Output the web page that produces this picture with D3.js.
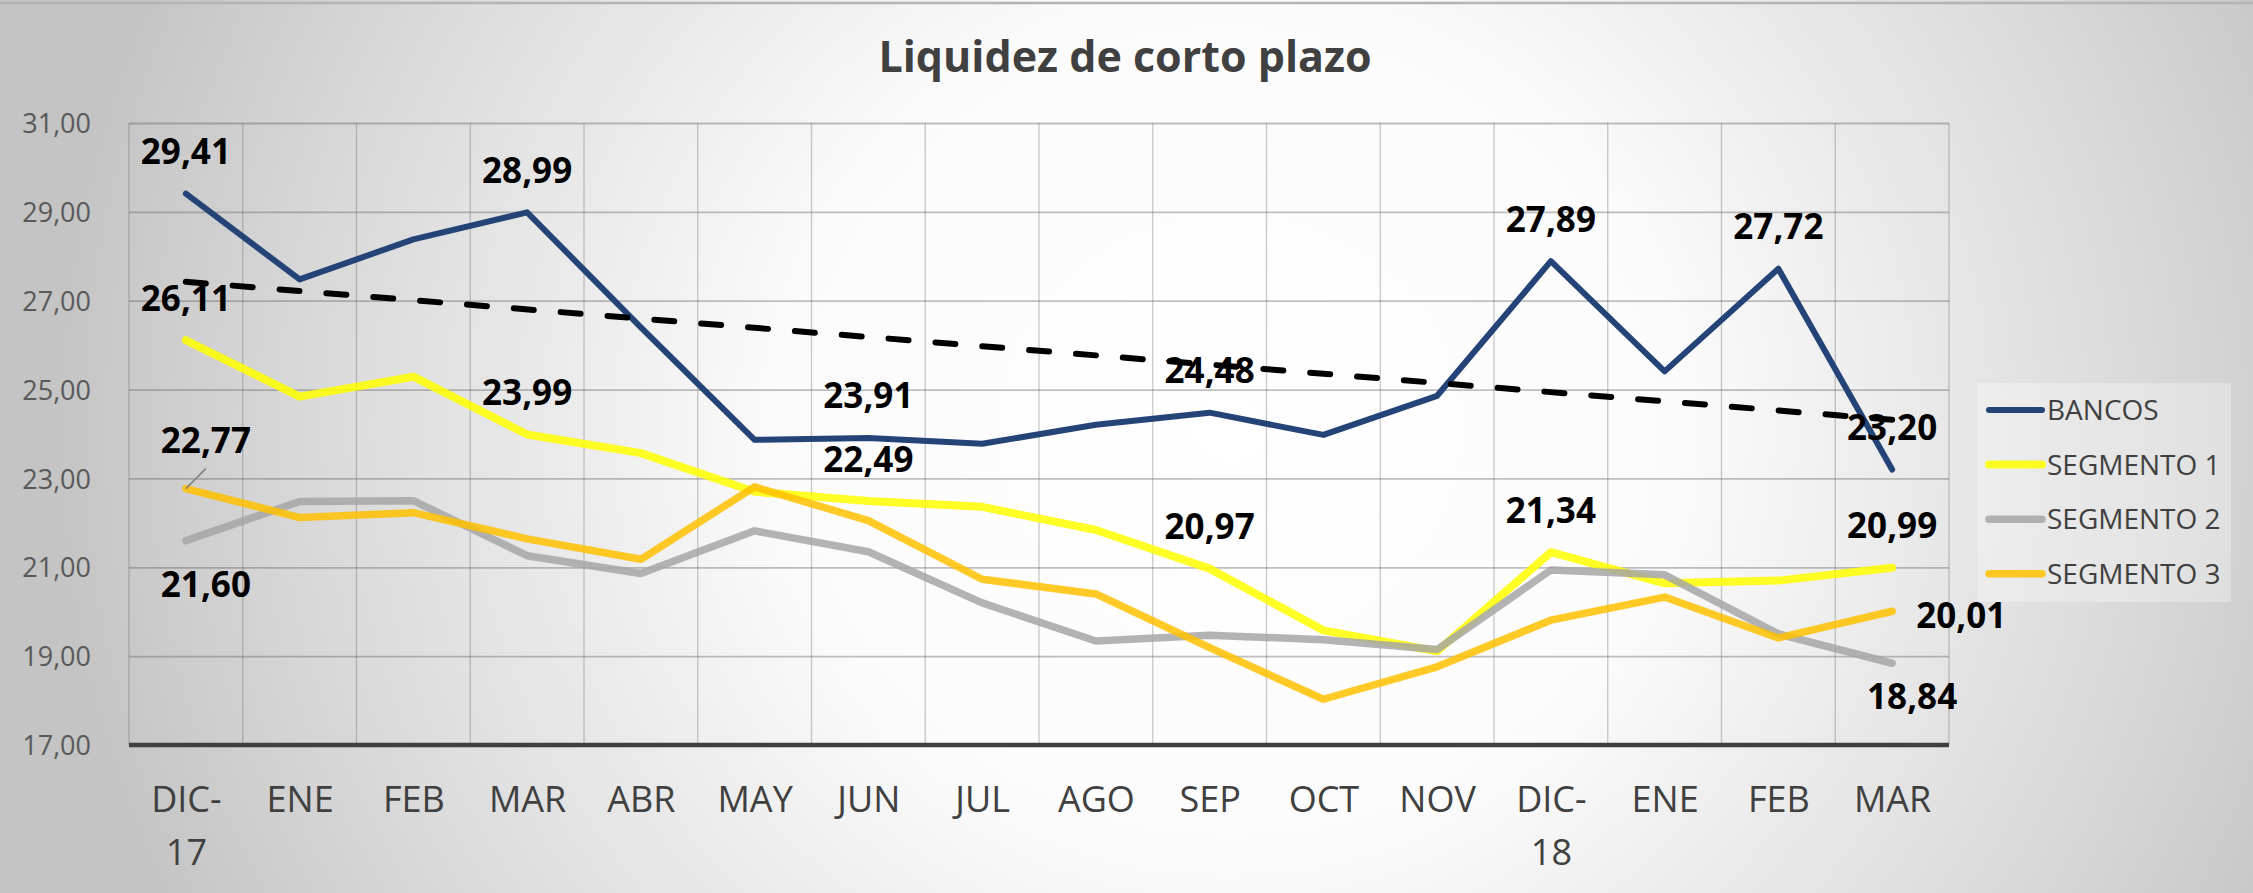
<!DOCTYPE html>
<html><head><meta charset="utf-8">
<script src="https://cdn.jsdelivr.net/npm/d3@7"></script>
<style>body{margin:0;background:#fff}svg{display:block}</style>
</head><body>
<svg id="chart" width="2253" height="893"></svg>
<script>
// ---------- data ----------
const categories = ["DIC-17","ENE","FEB","MAR","ABR","MAY","JUN","JUL","AGO","SEP","OCT","NOV","DIC-18","ENE","FEB","MAR"];
const bancos    = [29.41,27.48,28.38,28.99,26.40,23.87,23.91,23.78,24.21,24.48,23.98,24.86,27.89,25.41,27.72,23.20];
const segmento1 = [26.11,24.84,25.29,23.99,23.57,22.70,22.49,22.36,21.84,20.97,19.58,19.11,21.34,20.64,20.70,20.99];
const segmento2 = [21.60,22.48,22.50,21.26,20.86,21.82,21.35,20.20,19.34,19.47,19.37,19.15,20.94,20.83,19.50,18.84];
const segmento3 = [22.77,22.12,22.23,21.64,21.18,22.81,22.05,20.73,20.40,19.19,18.03,18.76,19.81,20.33,19.41,20.01];
const seriesNames = ["BANCOS","SEGMENTO 1","SEGMENTO 2","SEGMENTO 3"];
const yTicks = [17,19,21,23,25,27,29,31];
const title = "Liquidez de corto plazo";
// labelled points: [series index, point index, placement]
const labelSpecs = [
  [0,0,"above"],[0,3,"above"],[0,6,"above"],[0,9,"above"],[0,12,"above"],[0,14,"above"],[0,15,"above"],
  [1,0,"above"],[1,3,"above"],[1,6,"above"],[1,9,"above"],[1,12,"above"],[1,15,"above"],
  [2,0,"below"],[2,15,"below2"],
  [3,0,"leader"],[3,15,"right"]
];

// ---------- styles ----------
const W = 2253, H = 893;
const plot = {left:129, right:1949, top:123, bottom:745};
const colors = ["#244478","#ffff00","#a6a6a6","#ffc000"];
const widths = [6,8,7.5,7.5];
const opac = [1,0.85,0.85,0.85];
const FONT = "'Open Sans', 'Noto Sans', sans-serif";

const allSeries = [bancos, segmento1, segmento2, segmento3];
const svg = d3.select("#chart");
const fmt = d3.formatLocale({decimal:",", thousands:".", grouping:[3], currency:["$",""]}).format(".2f");

// background
const defs = svg.append("defs");
const rg = defs.append("radialGradient").attr("id","bg").attr("gradientUnits","userSpaceOnUse")
  .attr("cx",1230).attr("cy",430).attr("r",1180)
  .attr("gradientTransform","translate(1230,430) scale(1,0.95) translate(-1230,-430)");
rg.append("stop").attr("offset","0").attr("stop-color","#ffffff");
rg.append("stop").attr("offset","0.38").attr("stop-color","#fbfbfb");
rg.append("stop").attr("offset","0.78").attr("stop-color","#d9d9d9");
rg.append("stop").attr("offset","1").attr("stop-color","#c4c4c4");
svg.append("rect").attr("width",W).attr("height",H).attr("fill","url(#bg)");
svg.append("line").attr("x1",0).attr("x2",W).attr("y1",3).attr("y2",3).attr("stroke","#b4b4b4").attr("stroke-width",2.5);

// scales
const x = d3.scalePoint().domain(d3.range(categories.length)).range([plot.left, plot.right]).padding(0.5);
const xb = d3.scaleBand().domain(d3.range(categories.length)).range([plot.left, plot.right]);
const y = d3.scaleLinear().domain([17,31]).range([plot.bottom, plot.top]);

// horizontal gridlines + y labels
const yAxis = svg.append("g").attr("transform",`translate(${plot.left},0)`)
  .call(d3.axisLeft(y).tickValues(yTicks).tickSize(-(plot.right-plot.left)).tickPadding(38).tickFormat(fmt));
yAxis.select(".domain").remove();
yAxis.selectAll(".tick line").attr("stroke","#5a5a5a").attr("stroke-opacity",0.38).attr("stroke-width",1.8);
yAxis.selectAll(".tick text").attr("fill","#595959").style("font-family",FONT).style("font-size","27px")
  .attr("dy",null).attr("y",9.6);

// vertical gridlines at category boundaries
const vb = d3.range(categories.length+1).map(i => i < categories.length ? xb(i) : plot.right);
svg.append("g").selectAll("line").data(vb).join("line")
  .attr("x1",d=>d).attr("x2",d=>d).attr("y1",plot.top).attr("y2",plot.bottom)
  .attr("stroke","#5a5a5a").attr("stroke-opacity",0.33).attr("stroke-width",1.3);

// x axis
const xAxis = svg.append("g").attr("transform",`translate(0,${plot.bottom})`)
  .call(d3.axisBottom(x).tickSize(0).tickFormat(""));
xAxis.select(".domain").attr("stroke","#3f3f3f").attr("stroke-width",4.5)
  .attr("d",`M${plot.left},0H${plot.right}`);
xAxis.selectAll(".tick").each(function(i){
  const t = d3.select(this).append("text").attr("fill","#404040").attr("text-anchor","middle")
    .style("font-family",FONT).style("font-size","36px");
  const m = categories[i].match(/^(.*-)(\d+)$/);
  const lines = m ? [m[1], m[2]] : [categories[i]];
  lines.forEach((s,k)=> t.append("tspan").attr("x",0).attr("y",67 + k*53).text(s));
});

// series lines
const line = d3.line().x((d,i)=>x(i)).y(d=>y(d));
allSeries.forEach((s,k)=>{
  svg.append("path").datum(s).attr("d",line).attr("fill","none")
    .attr("stroke",colors[k]).attr("stroke-width",widths[k]).attr("stroke-opacity",opac[k])
    .attr("stroke-linejoin","round").attr("stroke-linecap","round");
});

// data labels
const lab = svg.append("g").style("font-family",FONT).style("font-size","35px").style("font-weight","700").attr("fill","#000");
const base = 0.357*35;
labelSpecs.forEach(([si,pi,pos])=>{
  const v = allSeries[si][pi], px = x(pi), py = y(v);
  let tx = px, ty = py, anchor = "middle";
  if (pos==="above") { ty = py - 42; }
  else if (pos==="below") { tx = px + 20; ty = py + 44; }
  else if (pos==="below2") { tx = px + 20; ty = py + 33; }
  else if (pos==="right") { tx = px + 24; ty = py + 4; anchor = "start"; }
  else if (pos==="leader") {
    tx = px + 20; ty = py - 48;
    svg.append("line").attr("x1",px).attr("y1",py).attr("x2",px+20).attr("y2",py-20)
      .attr("stroke","#7f7f7f").attr("stroke-width",1.5);
  }
  lab.append("text").attr("x",tx).attr("y",ty+base).attr("text-anchor",anchor).text(fmt(v));
});

// linear trendline for BANCOS
const n = bancos.length, xs = d3.range(n);
const mx = d3.mean(xs), my = d3.mean(bancos);
const slope = d3.sum(xs, i => (i-mx)*(bancos[i]-my)) / d3.sum(xs, i => (i-mx)*(i-mx));
const icpt = my - slope*mx;
svg.append("line").attr("x1",x(0)).attr("y1",y(icpt)).attr("x2",x(n-1)).attr("y2",y(icpt+slope*(n-1)))
  .attr("stroke","#000").attr("stroke-width",6).attr("stroke-dasharray","20,27").attr("stroke-linecap","round");

// title
svg.append("text").attr("x",1125).attr("y",72).attr("text-anchor","middle")
  .style("font-family",FONT).style("font-size","43px").style("font-weight","700").attr("fill","#404040").text(title);

// legend
const lg = svg.append("g");
lg.append("rect").attr("x",1977).attr("y",383).attr("width",254).attr("height",219)
  .attr("fill","#ffffff").attr("fill-opacity",0.3);
seriesNames.forEach((nm,k)=>{
  const cy = 410 + k*54.6;
  lg.append("line").attr("x1",1989).attr("x2",2042).attr("y1",cy).attr("y2",cy)
    .attr("stroke",colors[k]).attr("stroke-width",widths[k]).attr("stroke-opacity",opac[k]).attr("stroke-linecap","round");
  lg.append("text").attr("x",2047).attr("y",cy+10).attr("fill","#404040")
    .style("font-family",FONT).style("font-size","28px").text(nm);
});
</script>
</body></html>
